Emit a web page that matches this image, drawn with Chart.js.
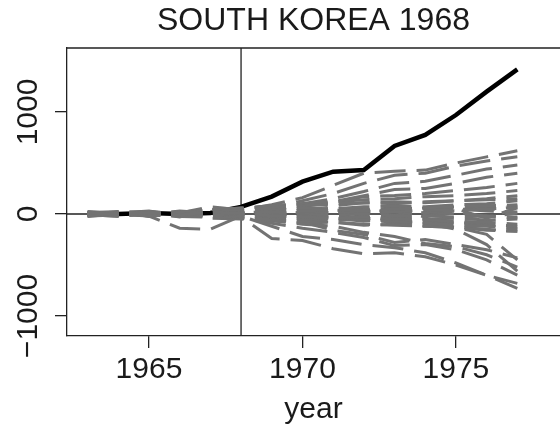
<!DOCTYPE html>
<html>
<head>
<meta charset="utf-8">
<script src="https://cdn.jsdelivr.net/npm/chart.js@4"></script>
<style>
html, body { margin: 0; padding: 0; background: #fff; }
canvas { display: block; }
</style>
</head>
<body>
<canvas id="chart" width="560" height="429"></canvas>
<script>
const years = [1963, 1964, 1965, 1966, 1967, 1968, 1969, 1970, 1971, 1972, 1973, 1974, 1975, 1976, 1977];
const treatYear = 1968;

// gap between South Korea and its synthetic control
const koreaGap = [0, 0, 10, 0, 10, 70, 170, 317, 415, 431, 667, 775, 970, 1199, 1418];

// placebo gaps, one row per donor country
const placeboGaps = [
    [10, -5, 15, -10, 20, 5, 20, 30, 40, 30, 50, 60, 70, 80, 90],
    [-15, 10, -20, 5, -10, 15, -20, -30, -40, -30, -50, -60, -70, -80, -100],
    [5, 20, -5, 15, 30, -10, 40, 60, 50, 70, 80, 70, 90, 100, 130],
    [-20, -10, 10, -15, -25, 20, -30, -50, -60, -50, -70, -90, -110, -120, -150],
    [0, 5, 0, 10, 5, 0, 10, 20, 15, 30, 20, 40, 30, 50, 60],
    [15, -15, 5, 20, -5, -20, -5, 10, -10, 5, -20, -15, -30, -20, -40],
    [-5, 15, 25, -5, 40, 30, 60, 80, 100, 110, 100, 120, 130, 150, 180],
    [25, 0, -10, 30, 10, -5, 20, -15, 25, -10, 30, -25, 20, -30, 10],
    [-10, -20, 5, -25, -30, -35, -60, -70, -80, -100, -110, -120, -130, -150, -170],
    [5, -5, 20, 0, 15, 40, 50, 30, 60, 40, 60, 50, 70, 60, 80],
    [-25, 5, -15, -5, -20, 10, -10, -30, -20, -40, -30, -50, -40, -60, -50],
    [20, 15, 0, 5, 60, 50, 80, 100, 80, 110, 120, 110, 130, 140, 150],
    [0, -15, -10, 25, -40, -50, -70, -90, -80, -110, -100, -120, -130, -160, -170],
    [-10, 10, 30, -20, 20, 25, 5, 40, 20, 50, 30, 60, 50, 40, 70],
    [10, 25, -25, 10, 0, -25, -40, -20, -50, -30, -60, -50, -80, -100, -120],
    [-5, -25, 15, -30, 45, 10, 30, 10, 40, 20, 40, 10, 50, 30, 20],
    [15, 5, -5, 15, -15, -40, -30, -50, -40, -70, -60, -80, -90, -110, -140],
    [-20, 20, 10, -10, 35, 60, 80, 100, 120, 140, 150, 170, 180, 200, 230],
    [0, -10, 10, 5, -10, 0, -10, 0, -20, 10, -10, 20, 0, -20, -30],
    [5, 0, -5, -5, 15, -15, 15, -10, 30, -20, 40, -30, 50, -40, 60],
    [5, -10, 20, 10, 70, 40, 90, 160, 280, 400, 420, 430, 500, 560, 620],
    [-5, 10, -10, 20, 40, 20, 60, 130, 200, 300, 380, 400, 470, 520, 560],
    [10, 0, 5, -15, 30, 30, 40, 100, 150, 220, 300, 320, 380, 440, 480],
    [0, 15, -15, 5, 25, 15, 30, 70, 120, 180, 240, 250, 300, 360, 400],
    [0, -5, 10, 0, 20, 10, 40, 90, 110, 170, 180, 200, 230, 260, 300],
    [-10, 0, 10, -20, -20, -30, -240, -260, -340, -390, -380, -420, -500, -600, -730],
    [0, -5, -20, -140, -150, -20, -120, -220, -250, -300, -330, -380, -480, -600, -680],
    [5, 10, -10, 0, -20, -40, -90, -140, -180, -230, -310, -300, -350, -450, -600],
    [-5, 5, 0, -10, 10, -20, -60, -100, -120, -180, -220, -290, -320, -400, -520],
    [10, -10, 5, 15, -30, -10, -40, -80, -160, -200, -280, -250, -300, -350, -430],
    [0, 5, -5, 10, -10, 0, -20, -30, -40, -60, -80, -100, -130, -200, -450],
    [-5, 0, 5, -5, 0, 10, 0, -20, -30, -40, -60, -90, -150, -300, -560]
];

const xTicks = [1965, 1970, 1975];
const yTicks = [-1000, 0, 1000];
const yTickLabels = ['\u22121000', '0', '1000'];

const ink = '#1a1a1a';
Chart.defaults.font.family = "'Liberation Sans', Arial, Helvetica, sans-serif";

const datasets = placeboGaps.map(function(vals) {
    return {
        data: vals.map(function(v, i) { return {x: years[i], y: v}; }),
        borderColor: '#737373',
        borderWidth: 3,
        borderDash: [31, 11],
        pointRadius: 0,
        order: 0
    };
});
datasets.push({
    data: koreaGap.map(function(v, i) { return {x: years[i], y: v}; }),
    borderColor: '#000000',
    borderWidth: 4.5,
    pointRadius: 0,
    order: 1
});

// reference lines at treatment year and zero, plus top edge of the box
const refLines = {
    id: 'refLines',
    beforeDatasetsDraw(chart) {
        const {ctx, chartArea, scales} = chart;
        const x = scales.x.getPixelForValue(treatYear);
        const y = scales.y.getPixelForValue(0);
        ctx.save();
        ctx.strokeStyle = '#222';
        ctx.lineWidth = 1.3;
        ctx.beginPath();
        ctx.moveTo(x, chartArea.top);
        ctx.lineTo(x, chartArea.bottom);
        ctx.moveTo(chartArea.left, y);
        ctx.lineTo(chartArea.right, y);
        ctx.moveTo(chartArea.left, chartArea.top);
        ctx.lineTo(chartArea.right, chartArea.top);
        ctx.stroke();
        ctx.restore();
    }
};

// y tick labels rotated the R way
const yLabels = {
    id: 'yLabels',
    afterDraw(chart) {
        const {ctx, scales} = chart;
        ctx.save();
        ctx.fillStyle = ink;
        ctx.font = "30px 'Liberation Sans', Arial, sans-serif";
        ctx.textAlign = 'center';
        ctx.textBaseline = 'middle';
        yTicks.forEach(function(v, i) {
            const y = scales.y.getPixelForValue(v);
            ctx.save();
            ctx.translate(29, y);
            ctx.rotate(-Math.PI / 2);
            ctx.fillText(yTickLabels[i], 0, 0);
            ctx.restore();
        });
        ctx.restore();
    }
};

new Chart(document.getElementById('chart'), {
    type: 'line',
    data: { datasets: datasets },
    plugins: [refLines, yLabels],
    options: {
        responsive: false,
        animation: false,
        layout: { padding: 0 },
        plugins: {
            legend: { display: false },
            tooltip: { enabled: false },
            title: {
                display: true,
                text: 'SOUTH KOREA 1968',
                fullSize: false,
                color: ink,
                font: { size: 32, weight: 'normal' },
                padding: { top: 2, bottom: 7.6 }
            }
        },
        scales: {
            x: {
                type: 'linear',
                min: 1962.33,
                max: 1978.39,
                afterBuildTicks: function(scale) {
                    scale.ticks = xTicks.map(function(v) { return {value: v}; });
                },
                afterFit: function(scale) { scale.height = 93; },
                ticks: {
                    color: ink,
                    font: { size: 30 },
                    padding: 4,
                    maxRotation: 0,
                    autoSkip: false,
                    callback: function(value) { return String(value); }
                },
                grid: {
                    drawOnChartArea: false,
                    drawTicks: true,
                    tickLength: 12,
                    color: '#222',
                    lineWidth: 1.3
                },
                border: { display: true, color: '#222', width: 1.3 },
                title: {
                    display: true,
                    text: 'year',
                    color: ink,
                    font: { size: 30 },
                    padding: 1
                }
            },
            y: {
                min: -1196,
                max: 1627,
                afterBuildTicks: function(scale) {
                    scale.ticks = yTicks.map(function(v) { return {value: v}; });
                },
                afterFit: function(scale) { scale.width = 67; },
                ticks: { display: false },
                grid: {
                    drawOnChartArea: false,
                    drawTicks: true,
                    tickLength: 12,
                    color: '#222',
                    lineWidth: 1.3
                },
                border: { display: true, color: '#222', width: 1.3 }
            }
        }
    }
});
</script>
</body>
</html>
